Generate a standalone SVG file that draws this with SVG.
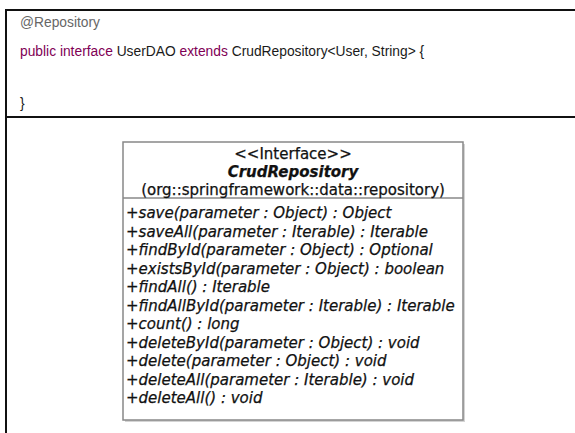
<svg xmlns="http://www.w3.org/2000/svg" width="575" height="433" viewBox="0 0 575 433">
<style>
.code{font-family:"Liberation Sans",Arial,sans-serif;font-size:13.8px;fill:#1a1a1a}
.kw{fill:#7f0055}
.ann{fill:#666}
.uml{font-family:"DejaVu Sans",sans-serif;font-size:15px;fill:#111;stroke:#111;stroke-width:0.25}
.hd{text-anchor:middle}
.m{font-style:italic}
.frame{stroke:#111;stroke-width:2;fill:none}
.box{fill:#fff;stroke:#888;stroke-width:1.5}
</style>
<rect width="575" height="433" fill="#fff"/>
<g id="frame">
<line class="frame" x1="6" y1="10" x2="575" y2="10"/>
<line class="frame" x1="6" y1="9" x2="6" y2="433"/>
<line class="frame" x1="6" y1="117" x2="575" y2="117"/>
</g>
<g id="code">
<text class="code ann" x="20" y="27">@Repository</text>
<text class="code" x="20" y="56"><tspan class="kw">public interface</tspan> UserDAO <tspan class="kw">extends</tspan> CrudRepository&lt;User, String&gt; {</text>
<text class="code" x="20" y="108">}</text>
</g>
<g id="crudRepository">
<rect x="125" y="144" width="340" height="278" fill="#aaa" opacity="0.5"/>
<rect class="box" x="123" y="142" width="340" height="278"/>
<line class="box" x1="123" y1="198" x2="463" y2="198"/>
<text class="uml hd" x="293" y="159">&lt;&lt;Interface&gt;&gt;</text>
<text class="uml hd" x="293" y="177" font-weight="bold" font-style="italic">CrudRepository</text>
<text class="uml hd" x="293" y="195">(org::springframework::data::repository)</text>
<text class="uml m" x="126" y="218">+save(parameter : Object) : Object</text>
<text class="uml m" x="126" y="236.5">+saveAll(parameter : Iterable) : Iterable</text>
<text class="uml m" x="126" y="255">+findById(parameter : Object) : Optional</text>
<text class="uml m" x="126" y="273.5">+existsById(parameter : Object) : boolean</text>
<text class="uml m" x="126" y="292">+findAll() : Iterable</text>
<text class="uml m" x="126" y="310.5">+findAllById(parameter : Iterable) : Iterable</text>
<text class="uml m" x="126" y="329">+count() : long</text>
<text class="uml m" x="126" y="347.5">+deleteById(parameter : Object) : void</text>
<text class="uml m" x="126" y="366">+delete(parameter : Object) : void</text>
<text class="uml m" x="126" y="384.5">+deleteAll(parameter : Iterable) : void</text>
<text class="uml m" x="126" y="403">+deleteAll() : void</text>
</g>
</svg>
